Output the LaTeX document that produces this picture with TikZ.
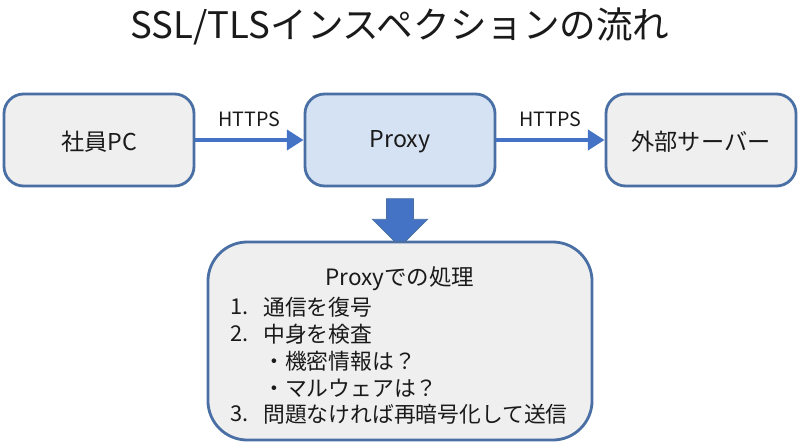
\documentclass[tikz,border=0pt]{standalone}
\usepackage{fontspec}
\setmainfont{Noto Sans CJK JP}
\usepackage{tikz}
\usetikzlibrary{positioning}
\usetikzlibrary{arrows.meta,shapes}
\usetikzlibrary{shapes.arrows}
\usetikzlibrary{calc}
\definecolor{frameblue}{HTML}{4A6FA5}
\definecolor{arrowblue}{HTML}{4472C4}
\definecolor{boxgray}{HTML}{EFEFEF}
\definecolor{proxyblue}{HTML}{D5E2F3}
\definecolor{inkblack}{HTML}{1A1A1A}
\tikzstyle{station}=[rectangle,rounded corners=14pt,draw=frameblue,line width=2pt,fill=boxgray,minimum width=4.75cm,minimum height=2.3cm,inner sep=0pt,font=\fontsize{16.5}{20}\selectfont,text=inkblack]
\tikzstyle{flow} = [draw=arrowblue,line width=3.5pt,-{Triangle[length=0.42cm,width=0.5cm]}]
\tikzstyle{proto} = [font=\fontsize{14}{17}\selectfont,text=inkblack]
\tikzstyle{listline} = [anchor=west,inner sep=0pt,font=\fontsize{15.5}{18}\selectfont,text=inkblack]

\begin{document}
\begin{tikzpicture}[x=0.025cm, y=-0.025cm]

  \useasboundingbox (0,0) rectangle (800,447);

  \node[font=\fontsize{26}{30}\selectfont,text=inkblack] (title) at (400,26) {SSL/TLSインスペクションの流れ};

  \foreach \x/\name/\label/\col in { 99/pc/社員PC/boxgray, 400/proxy/Proxy/proxyblue, 701/server/外部サーバー/boxgray}
  {
          \node[station, fill=\col] (\name) at (\x,140) {};
          \node[font=\fontsize{16.5}{20}\selectfont, text=inkblack] (\name text) at (\x,141.5) {\label};
  }

  \foreach \source/ \dest in {pc/proxy, proxy/server}
         \draw[flow] (\source) -- node[proto, above=4pt] {HTTPS} (\dest);

  % down arrow into the processing box
  \node[single arrow, draw=frameblue, fill=arrowblue, line width=0.6pt, shape border rotate=270,
        minimum height=1.2cm, inner sep=0.325cm, single arrow head extend=0.35cm] (down) at (400,216) {};

  \node[rectangle, rounded corners=28pt, draw=frameblue, line width=2pt, fill=boxgray,
        minimum width=9.6cm, minimum height=4.95cm] (work) at (400,341) {};

  \node[font=\fontsize{16}{19}\selectfont, text=inkblack] (worktitle) at (400,279) {Proxyでの処理};

  \foreach \y/\name/\num/\label in { 307/s1/1./通信を復号, 334/s2/2./中身を検査, 414/s3/3./問題なければ再暗号化して送信}
  {
          \node[listline] (\name n) at (230,\y) {\num};
          \node[listline] (\name) at (263,\y) {\label};
  }

  \foreach \y/\name/\label in { 361/b1/・機密情報は？, 388/b2/・マルウェアは？}
          \node[listline] (\name) at (263,\y) {\label};

\end{tikzpicture}
\end{document}
